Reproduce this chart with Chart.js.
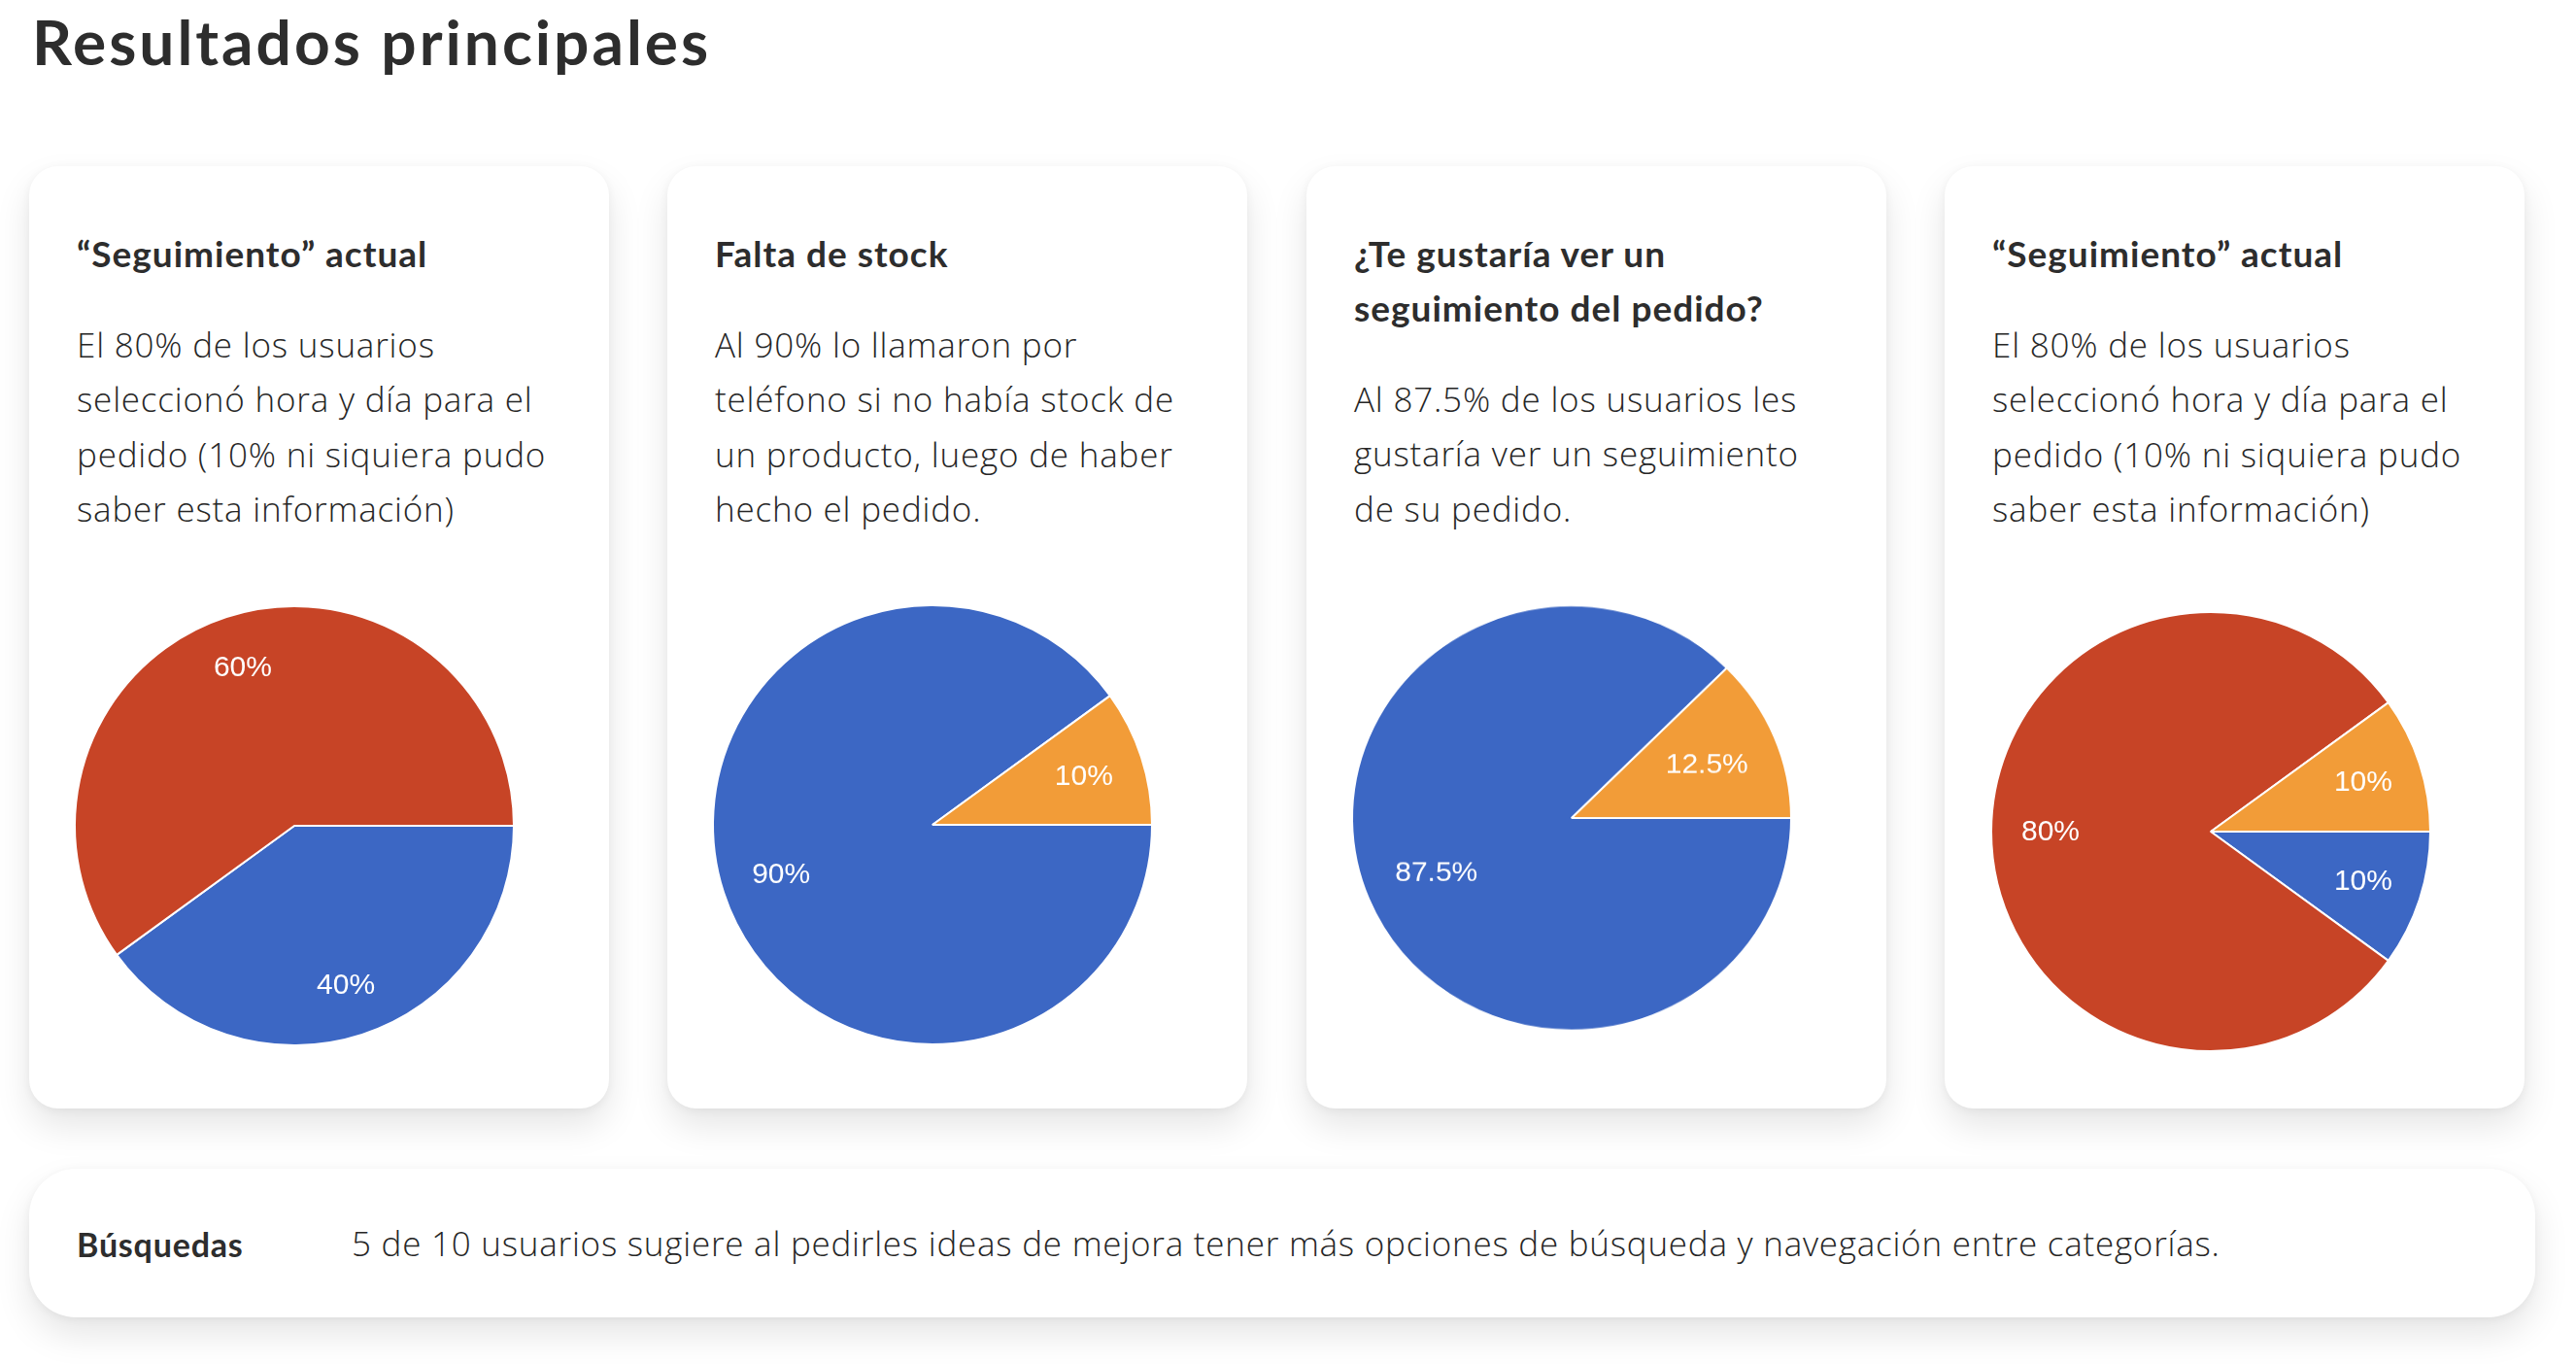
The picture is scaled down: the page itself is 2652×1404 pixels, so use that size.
<!DOCTYPE html>
<html>
<head>
<meta charset="utf-8">
<script src="https://cdn.jsdelivr.net/npm/chart.js@4.4.1/dist/chart.umd.min.js"></script>
<style>
  html, body { margin:0; padding:0; background:#ffffff; }
  body { width:2652px; height:1404px; position:relative; overflow:hidden; font-family:Lato, "Open Sans", sans-serif; color:#2d2d2d; }
  .title { position:absolute; left:33px; top:6px; margin:0; font-weight:700; font-size:64px; line-height:74px; white-space:nowrap; letter-spacing:3px; }
  .card { position:absolute; top:171px; width:597px; height:970px; background:#fff; border-radius:30px;
          box-shadow:0 18px 36px rgba(0,0,0,0.10), 0 2px 10px rgba(0,0,0,0.05); }
  .txt { position:absolute; left:49px; top:62px; width:540px; }
  .txt h3 { margin:0; font-family:Lato, sans-serif; font-size:37px; line-height:56px; font-weight:700; letter-spacing:1px; white-space:nowrap; }
  .txt p { margin:37.6px 0 0 0; font-family:"Open Sans", sans-serif; font-size:35px; line-height:56.5px; font-weight:300; letter-spacing:0.8px; white-space:nowrap; color:#262626; }
  .pie { position:absolute; width:500px; height:500px; }
  .bottom { position:absolute; left:30px; top:1203px; width:2580px; height:153px; background:#fff; border-radius:48px;
            box-shadow:0 18px 36px rgba(0,0,0,0.10), 0 2px 10px rgba(0,0,0,0.05); }
  .bottom .lbl { position:absolute; left:49px; top:50px; font-family:Lato, sans-serif; font-size:34px; line-height:56px; font-weight:700; letter-spacing:0.8px; white-space:nowrap; }
  .bottom .msg { position:absolute; left:332px; top:49px; font-family:"Open Sans", sans-serif; font-size:35px; line-height:56px; font-weight:300; letter-spacing:0.76px; white-space:nowrap; color:#262626; }
</style>
</head>
<body>
<h1 class="title">Resultados principales</h1>

<div class="card" style="left:30px"><div class="txt"><h3>“Seguimiento” actual</h3><p>El 80% de los usuarios<br>seleccionó hora y día para el<br>pedido (10% ni siquiera pudo<br>saber esta información)</p></div></div>
<div class="card" style="left:687px"><div class="txt"><h3>Falta de stock</h3><p>Al 90% lo llamaron por<br>teléfono si no había stock de<br>un producto, luego de haber<br>hecho el pedido.</p></div></div>
<div class="card" style="left:1345px"><div class="txt"><h3>¿Te gustaría ver un<br>seguimiento del pedido?</h3><p>Al 87.5% de los usuarios les<br>gustaría ver un seguimiento<br>de su pedido.</p></div></div>
<div class="card" style="left:2002px"><div class="txt"><h3>“Seguimiento” actual</h3><p>El 80% de los usuarios<br>seleccionó hora y día para el<br>pedido (10% ni siquiera pudo<br>saber esta información)</p></div></div>

<div class="pie" style="left:53px;top:599.5px"><canvas id="c1" width="500" height="500"></canvas></div>
<div class="pie" style="left:710px;top:599px"><canvas id="c2" width="500" height="500"></canvas></div>
<div class="pie" style="left:1368px;top:591.5px;transform:scaleY(0.967);transform-origin:50% 50%"><canvas id="c3" width="500" height="500"></canvas></div>
<div class="pie" style="left:2026px;top:606px"><canvas id="c4" width="500" height="500"></canvas></div>

<div class="bottom"><div class="lbl">Búsquedas</div><div class="msg">5 de 10 usuarios sugiere al pedirles ideas de mejora tener más opciones de búsqueda y navegación entre categorías.</div></div>

<script>
// ---- data ----
const BLUE = '#3c67c4', RED = '#c74426', ORANGE = '#f29c38';

const pie1Labels = ['Sí', 'No'];
const pie1Values = [40, 60];
const pie1Colors = [BLUE, RED];

const pie2Labels = ['Otro', 'Llamada telefónica'];
const pie2Values = [90, 10];
const pie2Colors = [BLUE, ORANGE];

const pie3Labels = ['Sí', 'No'];
const pie3Values = [87.5, 12.5];
const pie3Colors = [BLUE, ORANGE];

const pie4Labels = ['No', 'Sí', 'No pudo saber'];
const pie4Values = [10, 80, 10];
const pie4Colors = [BLUE, RED, ORANGE];

// ---- label plugin: draws value labels inside each slice using arc geometry ----
const sliceLabels = {
  id: 'sliceLabels',
  afterDatasetsDraw(chart, args, opts) {
    const ctx = chart.ctx;
    const meta = chart.getDatasetMeta(0);
    const data = chart.data.datasets[0].data;
    ctx.save();
    ctx.fillStyle = '#ffffff';
    ctx.font = '30px "Liberation Sans", Arial, sans-serif';
    ctx.textAlign = 'center';
    ctx.textBaseline = 'middle';
    meta.data.forEach((arc, i) => {
      const p = arc.getProps(['x','y','startAngle','endAngle','outerRadius'], true);
      const mid = (p.startAngle + p.endAngle) / 2;
      const r = p.outerRadius * opts.factor;
      ctx.fillText(data[i] + '%', p.x + Math.cos(mid) * r, p.y + Math.sin(mid) * r + 1);
    });
    ctx.restore();
  }
};

function makePie(id, labels, values, colors, factor) {
  new Chart(document.getElementById(id), {
    type: 'pie',
    data: { labels: labels, datasets: [{ data: values, backgroundColor: colors, borderColor: '#ffffff', borderWidth: 2 }] },
    options: {
      responsive: false,
      devicePixelRatio: 1,
      animation: false,
      rotation: 90,
      radius: 226,
      layout: { padding: 0 },
      plugins: { legend: { display: false }, tooltip: { enabled: false }, sliceLabels: { factor: factor } }
    },
    plugins: [sliceLabels]
  });
}

makePie('c1', pie1Labels, pie1Values, pie1Colors, 0.76);
makePie('c2', pie2Labels, pie2Values, pie2Colors, 0.725);
makePie('c3', pie3Labels, pie3Values, pie3Colors, 0.667);
makePie('c4', pie4Labels, pie4Values, pie4Colors, 0.73);
</script>
</body>
</html>
